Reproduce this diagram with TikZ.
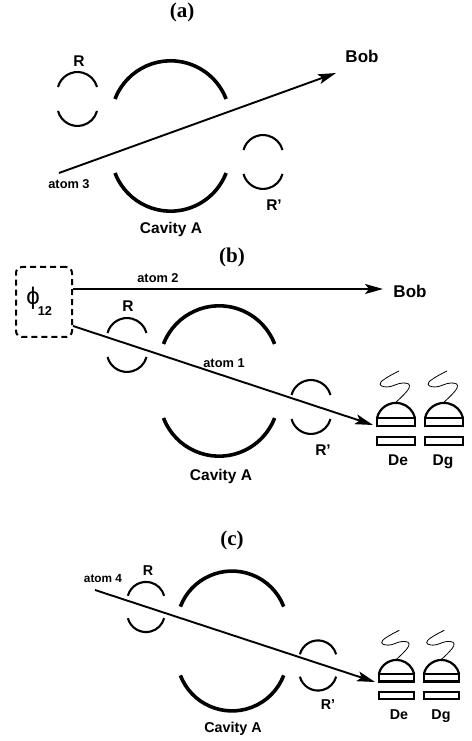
\documentclass[tikz,border=0pt]{standalone}
\usepackage{fontspec}
\setmainfont{Liberation Sans}
\newfontfamily\titlefont{Liberation Serif}
\usetikzlibrary{arrows.meta}
\tikzset{
  mirror/.style={line width=3.6pt},
  zone/.style={line width=2.1pt},
  beam/.style={line width=1.9pt, -{Stealth[length=18pt,width=10pt,inset=4pt]}},
  detline/.style={line width=2.2pt, fill=white},
  biglabel/.style={font=\fontsize{17}{19}\selectfont\bfseries, inner sep=0pt},
  midlabel/.style={font=\fontsize{15.5}{17}\selectfont\bfseries, inner sep=0pt},
  smalllabel/.style={font=\fontsize{12.8}{14}\selectfont\bfseries, inner sep=0pt},
  lowmidlabel/.style={font=\fontsize{14.3}{16}\selectfont\bfseries, inner sep=0pt},
  lowsmalllabel/.style={font=\fontsize{11.8}{14}\selectfont\bfseries, inner sep=0pt},
  paneltitle/.style={font=\titlefont\fontsize{21}{23}\selectfont\bfseries, inner sep=0pt},
}
% #1,#2 centre, #3 scale
\newcommand{\cavitymirrors}[3]{
\begin{scope}[shift={(#1,#2)}, scale=#3]
  \draw[mirror] (-55.5, 37) arc[start angle=159, end angle=21, radius=59.5];
  \draw[mirror] (-55.5,-37) arc[start angle=201, end angle=339, radius=59.5];
\end{scope}}
\newcommand{\ramseyzone}[3]{
\begin{scope}[shift={(#1,#2)}, scale=#3]
  \draw[zone] (-19.5, 12) arc[start angle=165, end angle=15, radius=20.2];
  \draw[zone] (-19.5,-12) arc[start angle=195, end angle=345, radius=20.2];
\end{scope}}
\newcommand{\detector}[3]{
\begin{scope}[shift={(#1,#2)}, scale=#3]
  \draw[line width=0.8pt] plot[smooth, tension=0.8] coordinates {(-1,15) (13,30) (7,35) (-9,31) (-15,36) (3,47)};
  \draw[detline] (-19,0) arc[start angle=167, end angle=13, radius=19.5];
  \draw[detline] (-19,0) rectangle (19,-8);
  \draw[detline] (-19,-19) rectangle (19,-27);
\end{scope}}
\begin{document}
\begin{tikzpicture}[x=1pt, y=1pt]
\useasboundingbox (0,0) rectangle (471,741);

% panel a
\node[paneltitle] (titleA) at (182,729) {(a)};
\cavitymirrors{170.5}{605}{1}
\ramseyzone{77.5}{642}{1}
\ramseyzone{263}{579}{1}
\coordinate (atomthreeS) at (59,568);
\coordinate (atomthreeE) at (336,668);
\draw[beam] (atomthreeS) -- (atomthreeE);
\node[biglabel] (bobA) at (362,685) {Bob};
\node[midlabel] (rA) at (79,680) {R};
\node[midlabel] (rpA) at (274,536) {R’};
\node[smalllabel] (atomthree) at (69,557) {atom 3};
\node[midlabel] (cavA) at (171,511) {Cavity A};

% panel b
\node[paneltitle] (titleB) at (232,484) {(b)};
\node[draw, line width=2pt, dash pattern=on 6pt off 4pt, rounded corners=6pt, minimum width=56pt, minimum height=70pt, inner sep=0pt] (epr) at (44,439) {};
\node[inner sep=0pt] (phi) at (33,443) {\fontsize{24}{26}\selectfont\char"03D5};
\node[smalllabel] (phisub) at (45,430) {12};
\cavitymirrors{219}{360}{1}
\ramseyzone{127}{396}{1}
\ramseyzone{311}{334}{1}
\detector{396}{323}{1}
\detector{444}{323}{1}
\coordinate (atomtwoS) at (epr.east |- 0,452);
\coordinate (atomtwoE) at (383,452);
\coordinate (atomoneS) at (epr.east |- 0,415);
\coordinate (atomoneE) at (373,316);
\draw[beam] (atomtwoS) -- (atomtwoE);
\draw[beam] (atomoneS) -- (atomoneE);
\node[biglabel] (bobB) at (410,450) {Bob};
\node[smalllabel] (atomtwo) at (158,463) {atom 2};
\node[smalllabel] (atomone) at (224,378) {atom 1};
\node[midlabel] (rB) at (128,435) {R};
\node[midlabel] (rpB) at (323,291) {R’};
\node[midlabel] (cavB) at (221,265) {Cavity A};
\node[midlabel, anchor=base] (deB) at (398,275) {De};
\node[midlabel, anchor=base] (dgB) at (443,275) {Dg};

% panel c
\node[paneltitle] (titleC) at (232,201) {(c)};
\cavitymirrors{232}{100}{0.93}
\ramseyzone{146}{134}{0.93}
\ramseyzone{318}{75.5}{0.93}
\detector{396.5}{67}{0.93}
\detector{441.5}{67}{0.93}
\coordinate (atomfourS) at (95,151);
\coordinate (atomfourE) at (375,59);
\draw[beam] (atomfourS) -- (atomfourE);
\node[lowsmalllabel] (atomfour) at (103,162) {atom 4};
\node[lowmidlabel] (rC) at (148,170) {R};
\node[lowmidlabel] (rpC) at (328,36) {R’};
\node[lowmidlabel] (cavC) at (233,12) {Cavity A};
\node[lowmidlabel, anchor=base] (deC) at (399,21) {De};
\node[lowmidlabel, anchor=base] (dgC) at (441,21) {Dg};
\end{tikzpicture}
\end{document}
